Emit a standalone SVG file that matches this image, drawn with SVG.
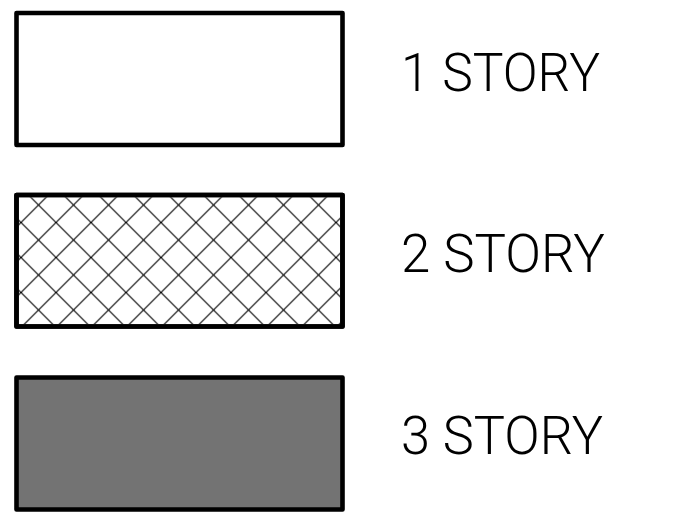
<svg xmlns="http://www.w3.org/2000/svg" width="692" height="517" viewBox="0 0 692 517">
  <style>
    .box { stroke: #000; stroke-width: 4.6; stroke-linejoin: round; }
    .lbl { font-family: Roboto, "Liberation Sans", sans-serif; font-weight: 300; font-size: 54px; fill: #000; }
  </style>
  <defs>
    <pattern id="hatch" patternUnits="userSpaceOnUse" x="21" y="12.5" width="35" height="35">
      <path d="M-1,-1 L36,36 M-1,36 L36,-1" stroke="#000" stroke-width="1.1" fill="none"/>
    </pattern>
  </defs>
  <rect width="692" height="517" fill="#fff"/>
  <g id="legend-1-story">
    <rect class="box" x="16.5" y="13" width="326" height="132" fill="#fff"/>
    <text class="lbl" x="401" y="91" textLength="199" lengthAdjust="spacingAndGlyphs">1 STORY</text>
  </g>
  <g id="legend-2-story">
    <rect class="box" x="16.5" y="195" width="326" height="131.5" fill="#fff"/>
    <rect x="18.75" y="197.25" width="321.5" height="127" fill="url(#hatch)"/>
    <rect class="box" x="16.5" y="195" width="326" height="131.5" fill="none"/>
    <text class="lbl" x="401" y="272" textLength="204" lengthAdjust="spacingAndGlyphs">2 STORY</text>
  </g>
  <g id="legend-3-story">
    <rect class="box" x="16.5" y="377.5" width="326" height="132" fill="#737373"/>
    <text class="lbl" x="401" y="454" textLength="202" lengthAdjust="spacingAndGlyphs">3 STORY</text>
  </g>
  <g id="connectors"></g>
</svg>
